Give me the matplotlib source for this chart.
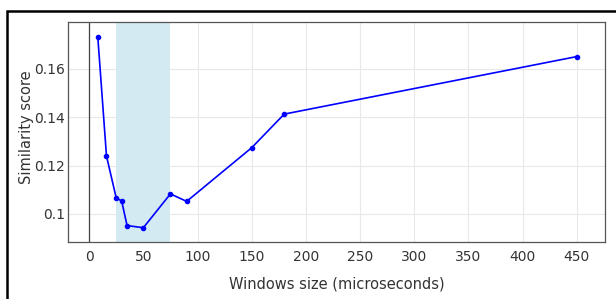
import matplotlib.pyplot as plt
from matplotlib.patches import Rectangle

# window sizes (microseconds) and similarity scores
window_sizes = [8, 16, 25, 30, 35, 50, 75, 90, 150, 180, 450]
scores = [0.1732, 0.1240, 0.1066, 0.1054, 0.0952, 0.0943, 0.1083, 0.1052, 0.1274, 0.1413, 0.1651]
highlight = [25, 75]
x_ticks = [0, 50, 100, 150, 200, 250, 300, 350, 400, 450]
y_ticks = [0.10, 0.12, 0.14, 0.16]
y_labels = ["0.1", "0.12", "0.14", "0.16"]

fig = plt.figure(figsize=(6.16, 2.99), dpi=100)
ax = fig.add_axes([68 / 616, 1 - 242 / 299, 537 / 616, 220 / 299])

# black frame around the figure (right/bottom edges fall outside)
fig.patches.append(Rectangle((7 / 616, -0.1), 1.2, 1 - 11 / 299 + 0.1,
                             transform=fig.transFigure, fill=False,
                             edgecolor="black", linewidth=1.8))

ax.axvspan(highlight[0], highlight[1], color="#d4eaf2", linewidth=0, zorder=1)
ax.axvline(0, color="#444444", linewidth=0.9, zorder=2)
ax.plot(window_sizes, scores, color="#0000ff", linewidth=1.2,
        marker="o", markersize=3, zorder=3)

ax.set_xlim(-19.5, 476)
ax.set_ylim(0.0884, 0.1794)
ax.set_xticks(x_ticks)
ax.set_yticks(y_ticks)
ax.set_yticklabels(y_labels)
ax.grid(True, color="#e8e8e8", linewidth=0.8, zorder=0)
ax.set_axisbelow(True)
for s in ax.spines.values():
    s.set_color("#555555")
    s.set_linewidth(0.9)
ax.tick_params(length=0, labelsize=10, colors="#333333")
ax.tick_params(axis="x", pad=6)
ax.tick_params(axis="y", pad=2)

ax.set_xlabel("Windows size (microseconds)", fontsize=10.5, color="#333333")
ax.set_ylabel("Similarity score", fontsize=10.5, color="#333333")
ax.xaxis.set_label_coords(0.5, -0.158)
ax.yaxis.set_label_coords(-0.064, 0.52)

plt.savefig("out.png")
